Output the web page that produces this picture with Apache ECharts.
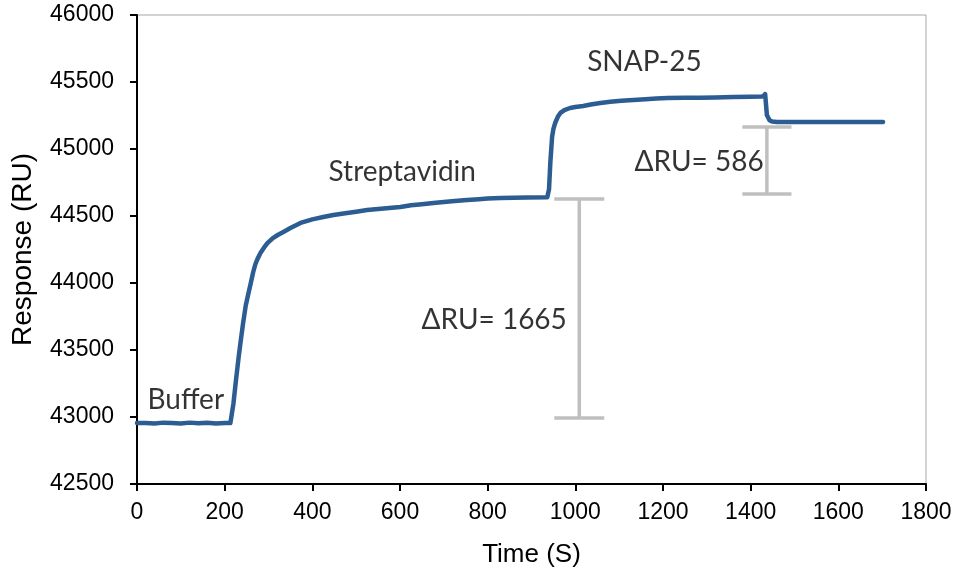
<!DOCTYPE html>
<html>
<head>
<meta charset="utf-8">
<script src="https://cdn.jsdelivr.net/npm/echarts@6/dist/echarts.min.js"></script>
<style>html,body{margin:0;padding:0;background:#fff}#c{width:956px;height:573px}</style>
</head>
<body>
<div id="c"></div>
<script>
// Sensorgram trace: time (s) and response (RU)
const timeS = [0, 20, 40, 60, 80, 100, 120, 140, 160, 180, 200, 213, 220, 226, 232, 236, 242, 248, 254, 259, 265, 270, 275, 282, 290, 298, 310, 322, 334, 350, 373, 400, 425, 448, 475, 500, 525, 550, 575, 601, 625, 650, 676, 700, 725, 753, 780, 800, 829, 860, 890, 936, 940, 943, 947, 950, 954, 960, 966, 975, 988, 1000, 1018, 1035, 1057, 1080, 1105, 1132, 1160, 1185, 1210, 1250, 1285, 1320, 1360, 1400, 1425, 1430, 1433, 1437, 1443, 1449, 1460, 1500, 1550, 1600, 1650, 1702];
const responseRU = [42955, 42955, 42952, 42958, 42955, 42952, 42958, 42953, 42957, 42952, 42956, 42955, 43100, 43280, 43450, 43552, 43700, 43830, 43920, 43990, 44080, 44140, 44180, 44225, 44265, 44299, 44335, 44360, 44381, 44410, 44448, 44475, 44492, 44507, 44520, 44532, 44545, 44552, 44560, 44567, 44580, 44588, 44597, 44605, 44612, 44619, 44625, 44630, 44634, 44636, 44638, 44640, 44700, 44900, 45090, 45150, 45194, 45240, 45269, 45290, 45306, 45313, 45321, 45332, 45343, 45352, 45360, 45366, 45372, 45376, 45381, 45382, 45383, 45385, 45388, 45390, 45392, 45395, 45410, 45254, 45215, 45205, 45202, 45202, 45201, 45201, 45201, 45201];

// ΔRU bars: x position (s), low and high (RU), cap half-width (s)
const barX = [1009, 1437];
const barLow = [42993, 44664];
const barHigh = [44627, 45164];
const barCap = [57, 56];

// Annotation texts and their anchor (left, middle) in data units
const noteText = ['Buffer', 'Streptavidin', 'SNAP-25', 'ΔRU= 586', 'ΔRU= 1665'];
const noteX = [24, 437, 1027, 1135, 649];
const noteY = [43127, 44828, 45649, 44903, 43724];

const xTicks = [0, 200, 400, 600, 800, 1000, 1200, 1400, 1600, 1800];
const yTicks = [42500, 43000, 43500, 44000, 44500, 45000, 45500, 46000];

const chart = echarts.init(document.getElementById('c'), null, {renderer: 'canvas'});
const sans = "'Liberation Sans', Arial, sans-serif";
const noteFont = "Lato, sans-serif";

chart.setOption({
  animation: false,
  backgroundColor: '#fff',
  grid: {left: 137, right: 30, top: 15, bottom: 89, show: true, borderColor: '#a6a6a6', borderWidth: 1},
  xAxis: {
    type: 'value', min: xTicks[0], max: xTicks[xTicks.length - 1], interval: 200,
    name: 'Time (S)', nameLocation: 'middle', nameGap: 58,
    nameTextStyle: {fontFamily: sans, fontSize: 26, color: '#000'},
    axisLine: {lineStyle: {color: '#000', width: 2}},
    axisTick: {show: true, length: 7, lineStyle: {color: '#000', width: 2}},
    axisLabel: {margin: 17, fontFamily: sans, fontSize: 23, color: '#000', formatter: v => String(v)},
    splitLine: {show: false}
  },
  yAxis: {
    type: 'value', min: yTicks[0], max: yTicks[yTicks.length - 1], interval: 500,
    name: 'Response (RU)', nameLocation: 'middle', nameGap: 100, nameRotate: 90,
    nameTextStyle: {fontFamily: sans, fontSize: 28, color: '#000'},
    axisLine: {show: true, lineStyle: {color: '#000', width: 2}},
    axisTick: {show: true, length: 7, lineStyle: {color: '#000', width: 2}},
    axisLabel: {margin: 23, fontFamily: sans, fontSize: 23, color: '#000', formatter: v => String(v)},
    splitLine: {show: false}
  },
  series: [
    {
      type: 'custom',
      data: barX.map((x, i) => [x, barLow[i], barHigh[i], barCap[i]]),
      renderItem: function (params, api) {
        const x = api.value(0), lo = api.value(1), hi = api.value(2), cw = api.value(3);
        const pLo = api.coord([x, lo]), pHi = api.coord([x, hi]);
        const l1 = api.coord([x - cw, hi]), r1 = api.coord([x + cw, hi]);
        const l2 = api.coord([x - cw, lo]), r2 = api.coord([x + cw, lo]);
        const st = {stroke: '#bfbfbf', lineWidth: 3.5};
        return {type: 'group', children: [
          {type: 'line', shape: {x1: pLo[0], y1: pLo[1], x2: pHi[0], y2: pHi[1]}, style: st},
          {type: 'line', shape: {x1: l1[0], y1: l1[1], x2: r1[0], y2: r1[1]}, style: st},
          {type: 'line', shape: {x1: l2[0], y1: l2[1], x2: r2[0], y2: r2[1]}, style: st}
        ]};
      },
      z: 1
    },
    {
      type: 'line',
      data: timeS.map((t, i) => [t, responseRU[i]]),
      showSymbol: false,
      lineStyle: {color: '#2b5d93', width: 4.5, cap: 'round', join: 'round'},
      z: 3
    },
    {
      type: 'scatter',
      symbolSize: 0,
      data: noteX.map((x, i) => ({value: [x, noteY[i]], name: noteText[i]})),
      label: {
        show: true, position: 'inside', align: 'left', verticalAlign: 'middle',
        formatter: p => p.name, fontFamily: noteFont, fontSize: 28, color: '#000'
      },
      z: 4
    }
  ]
});
</script>
</body>
</html>
